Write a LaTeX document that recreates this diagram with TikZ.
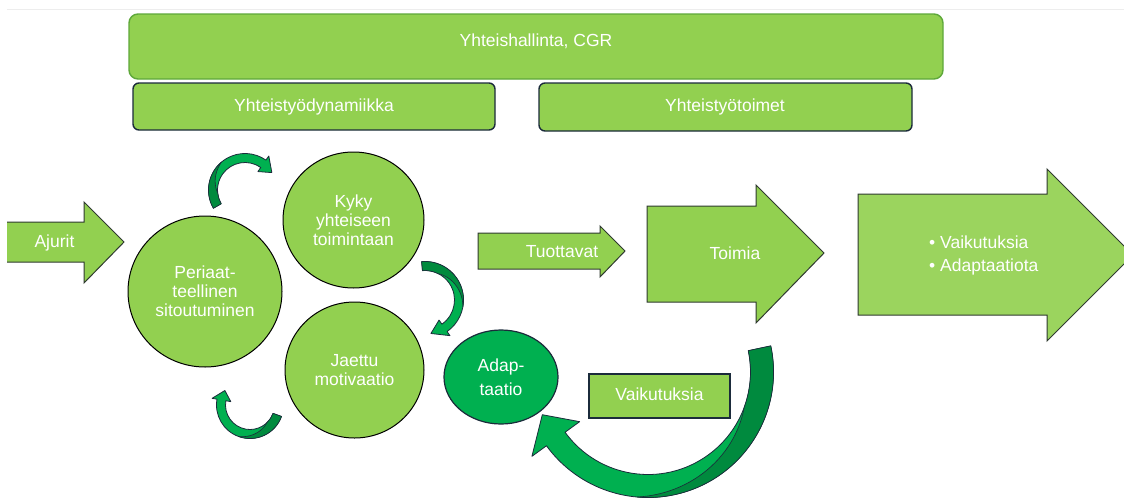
\documentclass[tikz,border=0pt]{standalone}
\usepackage{fontspec}
\setmainfont{Liberation Sans}
\usetikzlibrary{shapes.geometric,calc}
\definecolor{lg}{HTML}{92D050}
\definecolor{lgb}{HTML}{9BD45E}
\definecolor{bright}{HTML}{00B050}
\definecolor{dk}{HTML}{008A3E}
\definecolor{navy}{HTML}{1B2B3B}
\definecolor{boxgreen}{HTML}{5EA83A}
\definecolor{outl}{HTML}{2F3A30}
% curved arrow: cx cy r halfwidth a1 a2 headangle wing colour
\newcommand\carrow[9]{%
  \pgfmathsetmacro\cRo{#3+#4}%
  \pgfmathsetmacro\cRi{#3-#4}%
  \pgfmathsetmacro\cWo{#3+#4+#8}%
  \pgfmathsetmacro\cWi{#3-#4-#8}%
  \pgfmathsetmacro\cT{#6+#7}%
  \filldraw[fill=#9, draw=navy, line width=0.8pt, line join=round]
   ({#1+\cRo*cos(#5)},{#2+\cRo*sin(#5)})
   arc[start angle=#5, end angle=#6, radius=\cRo]
   -- ({#1+\cWo*cos(#6)},{#2+\cWo*sin(#6)})
   -- ({#1+#3*cos(\cT)},{#2+#3*sin(\cT)})
   -- ({#1+\cWi*cos(#6)},{#2+\cWi*sin(#6)})
   -- ({#1+\cRi*cos(#6)},{#2+\cRi*sin(#6)})
   arc[start angle=#6, end angle=#5, radius=\cRi]
   -- cycle;}
% darker twisted back side: cx cy r halfwidth a1 s colour
\newcommand\ctwist[7]{%
  \pgfmathsetmacro\cRo{#3+#4}%
  \pgfmathsetmacro\cRi{#3-#4}%
  \pgfmathsetmacro\cM{#5+0.3*(#6-#5)}%
  \filldraw[fill=#7, draw=navy, line width=0.6pt, line join=round]
   ({#1+\cRo*cos(#5)},{#2+\cRo*sin(#5)})
   arc[start angle=#5, end angle=#6, radius=\cRo]
   -- plot[domain=#6:\cM, samples=30, variable=\t]
     ({#1+(\cRo-(\cRo-\cRi)*(#6-\t)/(#6-\cM))*cos(\t)},{#2+(\cRo-(\cRo-\cRi)*(#6-\t)/(#6-\cM))*sin(\t)})
   arc[start angle=\cM, end angle=#5, radius=\cRi]
   -- cycle;}
\tikzset{
  txt/.style={text=white, font=\fontsize{17.5}{19}\selectfont, align=center, inner sep=0pt},
  topbox/.style={draw=boxgreen, fill=lg, line width=1.4pt, rounded corners=9pt, inner sep=0pt},
  subbox/.style={draw=navy, fill=lg, line width=1.4pt, rounded corners=6pt, inner sep=0pt},
  circ/.style={ellipse, draw=black, fill=lg, line width=1pt, inner sep=0pt, text=white,
    font=\fontsize{17.5}{19}\selectfont, align=center},
  blockarrow/.style={fill=lg, draw=outl, line width=1pt, line join=miter},
}
\begin{document}
\begin{tikzpicture}[x=1pt,y=-1pt]
\useasboundingbox (0,0) rectangle (1124,498);
\clip (0,0) rectangle (1124,498);
\fill[white] (0,0) rectangle (1124,498);
\draw[black!7, line width=0.6pt] (7,9) -- (1124,9);

% top boxes
\node[topbox, minimum width=814pt, minimum height=65pt] (cgr) at (536,46.5) {};
\node[txt, anchor=base] (cgrt) at (536,46.5) {Yhteishallinta, CGR};
\node[subbox, minimum width=362pt, minimum height=47pt] (dyn) at (314,106.5) {};
\node[txt, anchor=base] (dynt) at (314,111.5) {Yhteistyödynamiikka};
\node[subbox, minimum width=373pt, minimum height=48pt] (toim) at (725.5,107) {};
\node[txt, anchor=base] (toimt) at (725,111.5) {Yhteistyötoimet};

% Ajurit arrow
\fill[lg] (7,222) -- (84,222) -- (84,202) -- (124,242) -- (84,283) -- (84,262) -- (7,262) -- cycle;
\draw[draw=outl, line width=1pt] (7,222) -- (84,222) -- (84,202) -- (124,242) -- (84,283) -- (84,262) -- (7,262);
\node[txt, anchor=base] (ajurit) at (54.5,247) {Ajurit};

% circles
\node[circ, minimum width=154pt, minimum height=151pt] (peri) at (205,291.5) {Periaat-\\teellinen\\sitoutuminen};
\node[circ, minimum width=141pt, minimum height=136pt] (kyky) at (353.5,220) {Kyky\\yhteiseen\\toimintaan};
\node[circ, minimum width=139pt, minimum height=136pt] (jaettu) at (354.5,370) {Jaettu\\motivaatio};

% small curved arrows
\carrow{245}{190}{32}{4.5}{150}{305}{22}{5}{bright}
\ctwist{245}{190}{32}{4.5}{150}{230}{dk}
\carrow{425}{300}{34}{4.5}{-95}{55}{25}{5}{bright}
\ctwist{425}{300}{34}{4.5}{-95}{10}{dk}
\carrow{250}{405}{29}{4.5}{20}{190}{20}{5}{bright}
\ctwist{250}{405}{29}{4.5}{20}{110}{dk}

% Tuottavat arrow
\path[blockarrow] (478,233) -- (600,233) -- (600,226) -- (625,251) -- (600,277) -- (600,269) -- (478,269) -- cycle;
\node[txt, anchor=base] (tuott) at (562,257) {Tuottavat};

% Toimia arrow
\path[blockarrow] (647,206) -- (756,206) -- (756,185) -- (824,253) -- (756,323) -- (756,302) -- (647,302) -- cycle;
\node[txt, anchor=base] (toimia) at (735,259) {Toimia};

% big arrow
\path[blockarrow, fill=lgb] (858,194) -- (1047,194) -- (1047,169) -- (1133,255) -- (1047,341) -- (1047,315) -- (858,315) -- cycle;
\node[txt, anchor=base west, align=left, font=\fontsize{17.5}{23}\selectfont] (vaik2) at (929,248) {\textbullet\ Vaikutuksia};
\node[txt, anchor=base west, align=left, font=\fontsize{17.5}{23}\selectfont] (adap2) at (929,271) {\textbullet\ Adaptaatiota};

% Vaikutuksia box
\node[draw=navy, fill=lg, line width=1.4pt, minimum width=141pt, minimum height=44pt, inner sep=0pt] (vaik) at (659.5,396) {};
\node[txt, anchor=base] (vaikt) at (659.5,400) {Vaikutuksia};

% big curved feedback arrow
\carrow{648}{372}{114}{11.5}{-12}{144}{14}{18}{bright}
\ctwist{648}{372}{114}{11.5}{-12}{95}{dk}

% Adaptaatio
\node[ellipse, draw=navy, fill=bright, line width=1.2pt, minimum width=114pt, minimum height=94pt,
  inner sep=0pt, text=white, font=\fontsize{17.5}{24}\selectfont, align=center] (adap) at (501,377) {Adap-\\taatio};
\end{tikzpicture}
\end{document}
